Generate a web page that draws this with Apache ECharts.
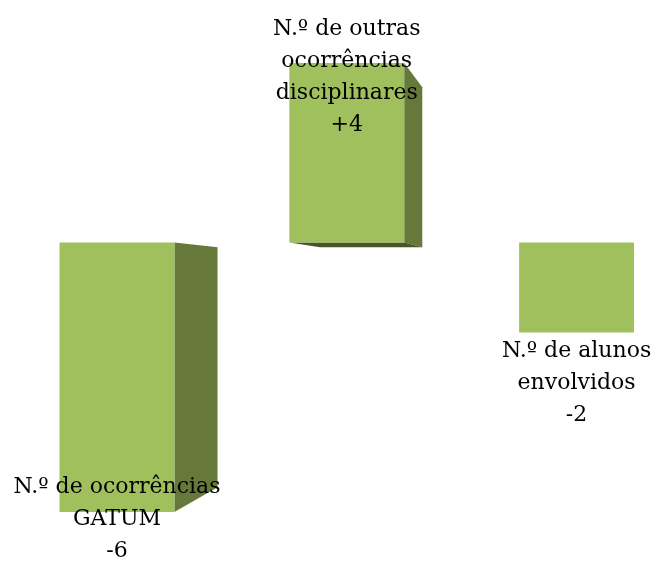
<!DOCTYPE html>
<html>
<head>
<meta charset="utf-8">
<script src="https://cdn.jsdelivr.net/npm/echarts@6/dist/echarts.min.js"></script>
<style>
    html, body { margin: 0; padding: 0; background: #fff; }
    #main { width: 654px; height: 561px; }
</style>
</head>
<body>
<div id="main"></div>
<script type="text/javascript">
    // categorias e variações
    var categories = ['N.º de ocorrências\nGATUM', 'N.º de outras\nocorrências\ndisciplinares', 'N.º de alunos\nenvolvidos'];
    var values = [-6, 4, -2];

    // deslocamento vertical das etiquetas (px)
    var labelShift = [7, 14, 51];

    var frontColor = '#a0c05e';
    var sideColor = '#66793a';
    var bottomColor = '#48562a';
    var vp = [570, 285]; // ponto de fuga
    var depth = 0.109;

    var myChart = echarts.init(document.getElementById('main'));

    function back(p) {
        return [p[0] + depth * (vp[0] - p[0]), p[1] + depth * (vp[1] - p[1])];
    }

    function fmt(v) {
        return (v > 0 ? '+' : '') + v;
    }

    myChart.setOption({
        animation: false,
        grid: { left: 0, right: 0, top: 63, bottom: 49 },
        // eixo x numérico: a última categoria fica parcialmente fora da área visível
        xAxis: { type: 'value', min: -0.509, max: 2.337, show: false },
        yAxis: { type: 'value', min: -6, max: 4, show: false },
        series: [{
            type: 'custom',
            data: values.map(function (v, i) { return [i, v]; }),
            renderItem: function (params, api) {
                var i = params.dataIndex;
                var v = api.value(1);
                var end = api.coord([i, v]);
                var base = api.coord([i, 0]);
                var w = api.size([1, 0])[0] * 0.5;
                var xl = end[0] - w / 2, xr = end[0] + w / 2;
                var y1 = Math.min(end[1], base[1]), y2 = Math.max(end[1], base[1]);
                var kids = [];

                var tr = [xr, y1], br = [xr, y2], bl = [xl, y2], tl = [xl, y1];
                // face lateral
                if (back(tr)[0] > xr) {
                    kids.push({
                        type: 'polygon',
                        shape: { points: [tr, back(tr), back(br), br] },
                        style: { fill: sideColor }
                    });
                }
                // face inferior
                if (back(bl)[1] > y2) {
                    kids.push({
                        type: 'polygon',
                        shape: { points: [bl, br, back(br), back(bl)] },
                        style: { fill: bottomColor }
                    });
                }
                // face superior
                if (back(tl)[1] < y1) {
                    kids.push({
                        type: 'polygon',
                        shape: { points: [tl, tr, back(tr), back(tl)] },
                        style: { fill: sideColor }
                    });
                }
                kids.push({
                    type: 'rect',
                    shape: { x: xl, y: y1, width: w, height: y2 - y1 },
                    style: { fill: frontColor }
                });

                var text = categories[i] + '\n' + fmt(values[i]);
                var ly = (v >= 0 ? y1 : y2) + labelShift[i];
                kids.push({
                    type: 'text',
                    x: end[0],
                    y: ly,
                    z2: 10,
                    style: {
                        text: text,
                        fill: '#000',
                        font: '22px "DejaVu Serif", serif',
                        lineHeight: 32,
                        align: 'center',
                        verticalAlign: 'middle'
                    }
                });
                return { type: 'group', children: kids };
            }
        }]
    });
</script>
</body>
</html>
